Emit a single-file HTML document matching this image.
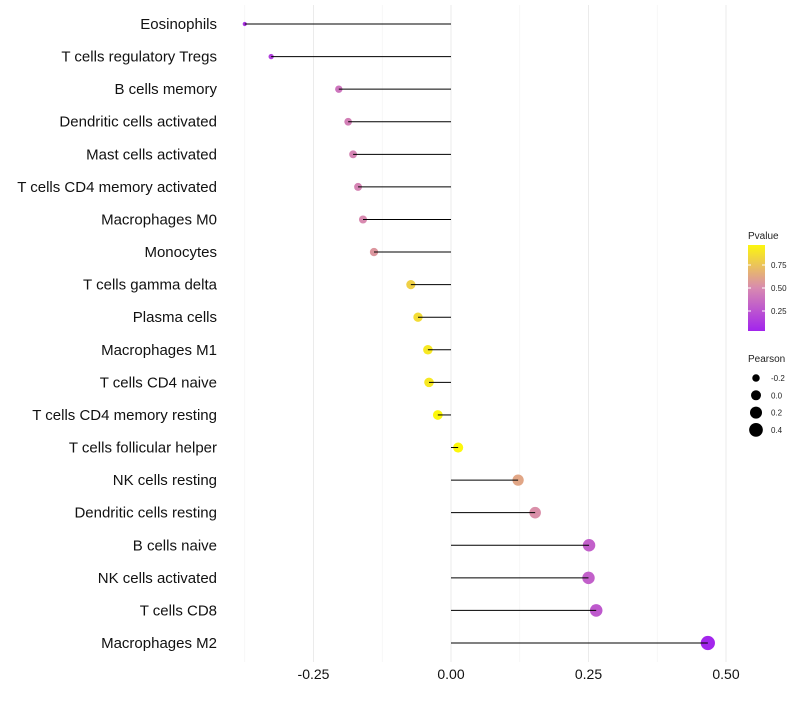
<!DOCTYPE html>
<html><head><meta charset="utf-8"><style>
body{margin:0;background:#fff;font-family:"Liberation Sans",sans-serif}
</style></head><body>
<svg id="c" width="800" height="700"></svg>
<script>
const categories=["Eosinophils","T cells regulatory  Tregs","B cells memory","Dendritic cells activated","Mast cells activated","T cells CD4 memory activated","Macrophages M0","Monocytes","T cells gamma delta","Plasma cells","Macrophages M1","T cells CD4 naive","T cells CD4 memory resting","T cells follicular helper","NK cells resting","Dendritic cells resting","B cells naive","NK cells activated","T cells CD8","Macrophages M2"];
const pearson=[-0.375,-0.327,-0.204,-0.187,-0.178,-0.169,-0.16,-0.14,-0.073,-0.06,-0.042,-0.04,-0.024,0.013,0.122,0.153,0.251,0.25,0.264,0.467];
const pvalue=[0.1,0.15,0.4,0.45,0.47,0.47,0.5,0.55,0.8,0.85,0.9,0.9,0.97,0.97,0.62,0.52,0.3,0.3,0.27,0.03];
const xTicks=[-0.25,0,0.25,0.5];
const xTickLabels=["-0.25","0.00","0.25","0.50"];
const pTicks=[0.25,0.5,0.75];
const sizeTicks=[-0.2,0,0.2,0.4];
const sizeLabels=["-0.2","0.0","0.2","0.4"];

const NS="http://www.w3.org/2000/svg";
const svg=document.getElementById('c');
function mk(t,a,p){const e=document.createElementNS(NS,t);for(const k in a)e.setAttribute(k,a[k]);(p||svg).appendChild(e);return e;}
const x=v=>451+v*550;
const y=i=>24+i*(643-24)/19;
const r=v=>Math.sqrt(Math.max(2,25+55*v));
function lerp(a,b,t){return a.map((v,i)=>Math.round(v+(b[i]-v)*t));}
function col(p){const s=[[0,[160,32,240]],[0.5,[216,138,176]],[1,[255,255,0]]];
 const t=Math.min(1,Math.max(0,p));
 const k=t<0.5?0:1;const c=lerp(s[k][1],s[k+1][1],(t-s[k][0])/0.5);return `rgb(${c})`;}

const grid=mk('g',{});

[-0.375,-0.125,0.125,0.375].forEach(v=>mk('line',{x1:x(v),x2:x(v),y1:5,y2:662,stroke:'#f3f3f3','stroke-width':0.6},grid));
xTicks.forEach(v=>mk('line',{x1:x(v),x2:x(v),y1:5,y2:662,stroke:'#ebebeb','stroke-width':1},grid));

xTicks.forEach((v,i)=>{const t=mk('text',{x:x(v),y:679,'text-anchor':'middle','font-size':14,fill:'#111'});t.textContent=xTickLabels[i];
});

categories.forEach((c,i)=>{
 const t=mk('text',{x:217,y:y(i)+5,'text-anchor':'end','font-size':15,fill:'#111'});t.textContent=c;
 
 const d=mk('circle',{cx:x(pearson[i]),cy:y(i),r:r(pearson[i]),fill:col(pvalue[i])});
 
 const l=mk('line',{x1:x(0),x2:x(pearson[i]),y1:y(i),y2:y(i),stroke:'#000','stroke-width':1});
 
});

const lg=mk('g',{});

let t=mk('text',{x:748,y:239,'font-size':10,fill:'#222'},lg);t.textContent='Pvalue';
const defs=mk('defs',{});const gr=mk('linearGradient',{id:'pg',x1:0,y1:1,x2:0,y2:0},defs);
[[0,0.02],[0.5,0.5],[1,0.96]].forEach(([o,p])=>mk('stop',{offset:o,'stop-color':col(p)},gr));
const bar=mk('rect',{x:748,y:245,width:17,height:86,fill:'url(#pg)'},lg);

const py=p=>334-p*92;
pTicks.forEach(p=>{mk('line',{x1:748,x2:751,y1:py(p),y2:py(p),stroke:'#fff'},lg);mk('line',{x1:762,x2:765,y1:py(p),y2:py(p),stroke:'#fff'},lg);
 const s=mk('text',{x:771,y:py(p)+3,'font-size':8,fill:'#222'},lg);s.textContent=p.toFixed(2);});
t=mk('text',{x:748,y:362,'font-size':10,fill:'#222'},lg);t.textContent='Pearson';
sizeTicks.forEach((v,i)=>{const cy=378+i*17.3;mk('circle',{cx:756,cy:cy,r:r(v),fill:'#000'},lg);
 const s=mk('text',{x:771,y:cy+3,'font-size':8,fill:'#222'},lg);s.textContent=sizeLabels[i];});
</script>
</body></html>
